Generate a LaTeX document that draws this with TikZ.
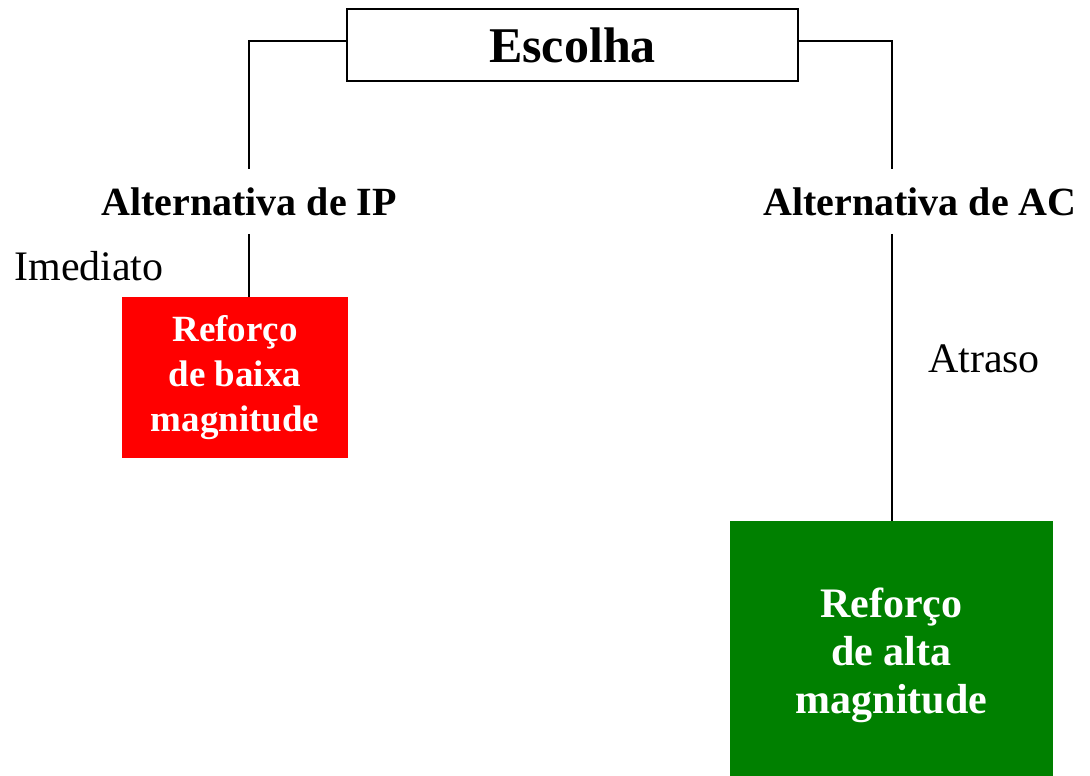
\documentclass[tikz,border=0pt]{standalone}
\usepackage{fontspec}
\setmainfont{Liberation Serif}
\usepackage{tikz}
\usetikzlibrary{positioning}

\begin{document}
\begin{tikzpicture}[x=1pt, y=-1pt,
    caixa/.style={draw, line width=2.2pt, minimum width=451pt, minimum height=72pt,
        inner sep=0pt, font=\fontsize{50}{60}\selectfont\bfseries},
    alternativa/.style={inner xsep=0pt, inner ysep=18pt,
        font=\fontsize{40}{48}\selectfont\bfseries},
    rotulo/.style={inner sep=0pt, font=\fontsize{42}{50}\selectfont},
    reforco/.style={fill=#1, text=white, inner sep=0pt, align=center},
    ligacao/.style={line width=2pt}]
    \definecolor{verde}{HTML}{008000}
    %% area visivel (a caixa verde sai pela borda de baixo)
    \clip (0,0) rectangle (1090,776);
    %% escolha
    \node[caixa] (escolha) at (572.5, 45) {Escolha};
    %% as duas alternativas
    \node[alternativa] (ip) at (249, 201.5) {Alternativa de IP};
    \node[alternativa] (ac) at (920, 201.5) {Alternativa de AC};
    %% consequencias
    \node[reforco=red, minimum width=226pt, minimum height=161pt,
        font=\fontsize{37}{45}\selectfont\bfseries] (baixa) at (235, 377.5)
        {Reforço\\de baixa\\magnitude};
    \node[reforco=verde, minimum width=323pt, minimum height=268pt,
        font=\fontsize{42}{48}\selectfont\bfseries] (alta) at (891.5, 655)
        {Reforço\\de alta\\magnitude};
    %% atrasos
    \node[rotulo] (imediato) at (89, 266) {Imediato};
    \node[rotulo] (atraso) at (984, 359) {Atraso};
    %% ligacoes
    \draw[ligacao] ([yshift=4pt]escolha.west) -| (ip.north);
    \draw[ligacao] ([yshift=4pt]escolha.east) -| (alta.north |- ac.north);
    \draw[ligacao] (ip.south) -- (ip.south |- baixa.north);
    \draw[ligacao] (alta.north |- ac.south) -- (alta.north);
\end{tikzpicture}
\end{document}
